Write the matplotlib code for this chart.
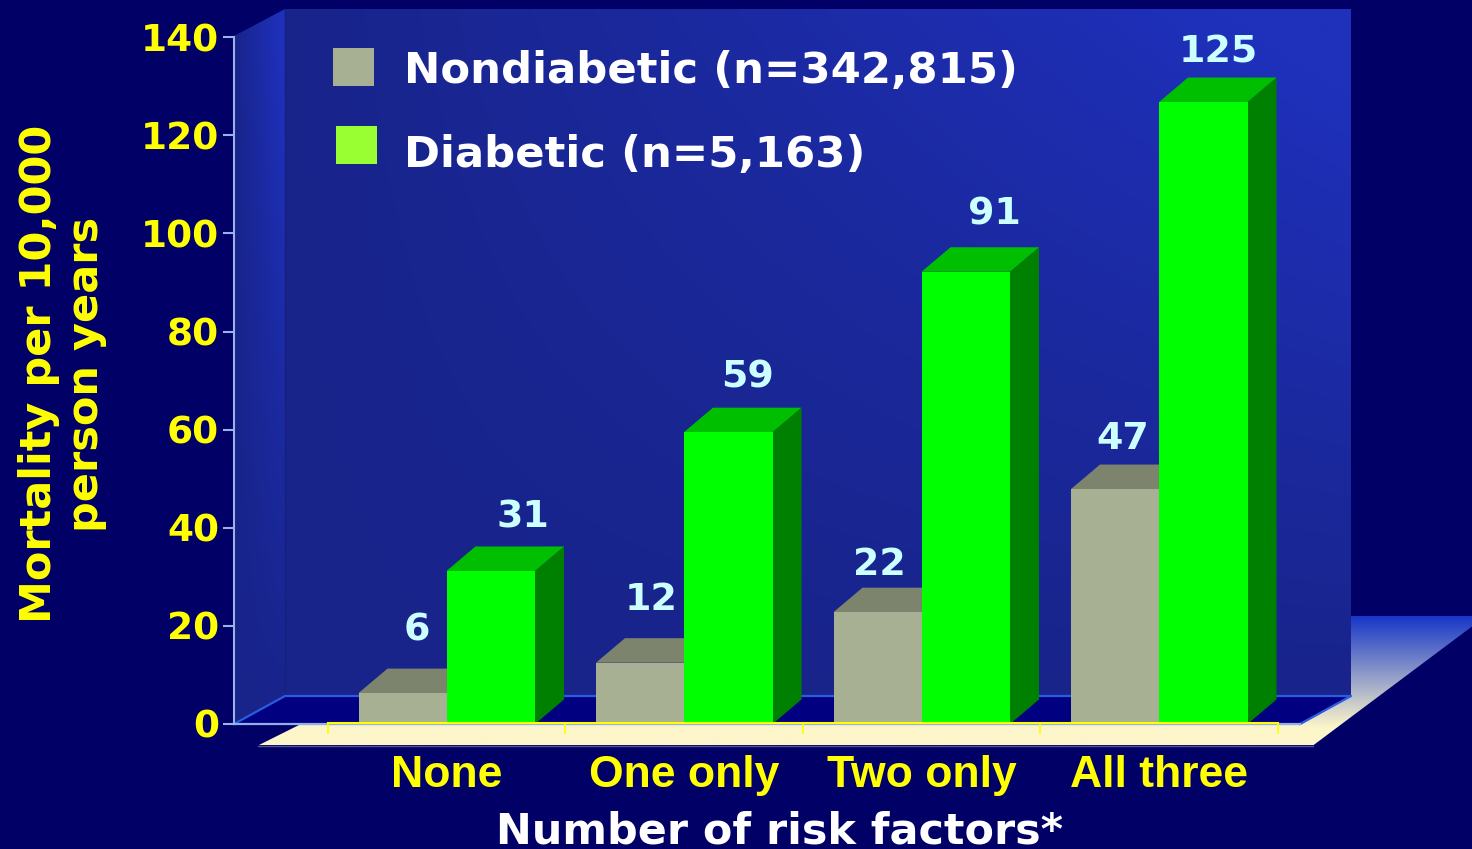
import numpy as np
import matplotlib
matplotlib.use("Agg")
import matplotlib.pyplot as plt
from matplotlib.colors import to_rgb
from matplotlib.patches import Polygon

# ---- data ----
categories = ["None", "One only", "Two only", "All three"]
nondiabetic_labels = [6, 12, 22, 47]
diabetic_labels = [31, 59, 91, 125]
# bar heights as read against the drawn y axis
nondiabetic_heights = [6.3, 12.5, 22.8, 47.9]
diabetic_heights = [31.2, 59.5, 92.2, 126.8]
y_ticks = [0, 20, 40, 60, 80, 100, 120, 140]
legend_nondiabetic = "Nondiabetic (n=342,815)"
legend_diabetic = "Diabetic (n=5,163)"
y_title = "Mortality per 10,000\nperson years"
x_title = "Number of risk factors*"

# ---- style ----
W, H = 1472, 849
BG = "#000066"
GRAY, GRAY_TOP = "#a7b093", "#7c846e"
GREEN, GREEN_SIDE, GREEN_TOP = "#00ff00", "#008000", "#00bf00"
YEL, LAB, AX = "#ffff00", "#ccffff", "#99b3e6"
DEPTH_PX = (29, 24.5)
gray_off = [(-30, 63), (-33, 63), (-42, 47), (-36, 50)]
green_off = [(76, 53), (64, 55), (73, 57), (59, 50)]
BODY = ["DejaVu Sans"]
HEAD = ["Liberation Sans"]

fig = plt.figure(figsize=(W / 100, H / 100), dpi=100, facecolor=BG)

# ---- backdrop in pixel space ----
bg = fig.add_axes([0, 0, 1, 1], zorder=0)
bg.set_xlim(0, W); bg.set_ylim(H, 0); bg.axis("off")


def grad_image(poly, extent, func, z):
    x0, x1, y0, y1 = extent
    nx, ny = 240, 240
    xs, ys = np.meshgrid(np.linspace(0, 1, nx), np.linspace(0, 1, ny))
    im = bg.imshow(func(xs, ys), extent=(x0, x1, y1, y0), origin="upper",
                   aspect="auto", zorder=z, interpolation="bilinear")
    p = Polygon(poly, closed=True, transform=bg.transData, fc="none", ec="none")
    bg.add_patch(p)
    im.set_clip_path(p)


def mix(a, b, t):
    a, b = np.array(to_rgb(a)), np.array(to_rgb(b))
    return a + (b - a) * np.clip(t, 0, 1)[..., None]


wall = lambda x, y: mix("#18248a", "#1f30bb", x * (1 - y) * 1.15)
slab = lambda x, y: mix("#1535c8", "#fdf6ca", y * 1.15)
grad_image([(258, 745.5), (299, 725), (1300, 725), (1351, 696), (1351, 616),
            (1486, 616), (1313, 745.5)], (258, 1486, 616, 745.5), slab, 1)
bg.plot([258, 1313], [745.7, 745.7], color="#55558f", lw=1, zorder=1.2)
grad_image([(285, 9), (1351, 9), (1351, 696), (285, 696)], (285, 1351, 9, 696), wall, 2)
grad_image([(234, 36), (285, 9), (285, 696), (234, 724)], (234, 285, 9, 724), wall, 2)
bg.add_patch(Polygon([(234, 724), (285, 696), (1351, 696), (1300, 724)],
                     closed=True, fc="#000080", ec="none", zorder=3))
bg.plot([234, 285, 1351, 1300], [724, 696, 696, 724], color="#2a5ce0", lw=1.6, zorder=3.2)
bg.plot([285, 285], [9, 696], color="#15207a", lw=1, zorder=3.1)
bg.plot([234, 1300], [724, 724], color="#8fb0ea", lw=1.6, zorder=3.2)
bg.set_xlim(0, W); bg.set_ylim(H, 0)

# ---- chart axes ----
left, right, y0px, y140 = 233.5, 1279, 724, 37.3
ax = fig.add_axes([left / W, 1 - y0px / H, (right - left) / W, (y0px - y140) / H],
                  zorder=1, facecolor="none")
cat_w, cat_0 = 237.5, 446.5
ax.set_xlim((left - cat_0) / cat_w, (right - cat_0) / cat_w)
ax.set_ylim(0, 140)
px_x, px_y = 1 / cat_w, 140 / (y0px - y140)
dx, dy = DEPTH_PX[0] * px_x, DEPTH_PX[1] * px_y
bw_g, bw_d = 88 * px_x, 88.5 * px_x
xs = np.arange(len(categories))


def solid(xa, xb, h, front, side, top, z):
    ax.bar(xa, h, width=xb - xa, align="edge", color=front, linewidth=0, zorder=z + .2)
    if side:
        ax.add_patch(Polygon([(xb, 0), (xb + dx, dy), (xb + dx, h + dy), (xb, h)],
                             closed=True, fc=side, ec="none", zorder=z))
    ax.add_patch(Polygon([(xa, h), (xa + dx, h + dy), (xb + dx, h + dy), (xb, h)],
                         closed=True, fc=top, ec="none", zorder=z))


for i, x in enumerate(xs):
    solid(x - bw_g, x, nondiabetic_heights[i], GRAY, None, GRAY_TOP, 2.0)
    solid(x, x + bw_d, diabetic_heights[i], GREEN, GREEN_SIDE, GREEN_TOP, 2.1)
    for val, h, off in ((nondiabetic_labels[i], nondiabetic_heights[i], gray_off[i]),
                        (diabetic_labels[i], diabetic_heights[i], green_off[i])):
        ax.annotate(str(val), xy=(x, h), xytext=off, textcoords="offset pixels",
                    ha="center", va="center", color=LAB, fontsize=27.4,
                    fontweight="bold", family=BODY, zorder=5)

for s in ("top", "right"):
    ax.spines[s].set_visible(False)
ax.spines["left"].set_color(AX); ax.spines["left"].set_linewidth(1.5)
ax.spines["left"].set_bounds(0, 140)
ax.spines["bottom"].set_position(("data", 0.3))
ax.spines["bottom"].set_color(YEL); ax.spines["bottom"].set_linewidth(1.5)
ax.spines["bottom"].set_bounds(-0.5, len(categories) - 0.5)

ax.set_yticks(y_ticks)
ax.tick_params(axis="y", length=8, width=1.5, color=AX, labelcolor=YEL, pad=2.5, labelsize=27)
for t in ax.get_yticklabels():
    t.set_fontweight("bold"); t.set_family(BODY)
ax.set_xticks(xs)
ax.set_xticklabels(categories)
ax.set_xticks(np.arange(len(categories) + 1) - 0.5, minor=True)
ax.tick_params(axis="x", which="major", length=0, pad=23.5, labelcolor=YEL, labelsize=32)
ax.tick_params(axis="x", which="minor", length=8, width=1.3, color=YEL)
for t in ax.get_xticklabels():
    t.set_fontweight("bold"); t.set_family(HEAD)

ax.set_ylabel(y_title, color=YEL, fontsize=31, fontweight="bold", family=BODY,
              linespacing=1.16, ha="center", va="center")
ax.yaxis.set_label_coords((62.5 - left) / (right - left), (724 - 374) / (724 - 37.3))
ax.set_xlabel(x_title, color="white", fontsize=30.9, fontweight="bold", family=BODY,
              ha="center", va="center")
ax.xaxis.set_label_coords((780 - left) / (right - left), (724 - 831) / (724 - 37.3))

# ---- legend, hand placed as in the slide ----
bg.add_patch(Polygon([(333, 48), (374, 48), (374, 86), (333, 86)], closed=True, fc=GRAY, ec="none", zorder=4))
bg.add_patch(Polygon([(336, 126), (377, 126), (377, 164), (336, 164)], closed=True, fc="#99ff33", ec="none", zorder=4))
bg.text(404, 71, legend_nondiabetic, color="white", fontsize=31.2, fontweight="bold",
        family=BODY, va="center", ha="left", zorder=4)
bg.text(404, 155, legend_diabetic, color="white", fontsize=31.2, fontweight="bold",
        family=BODY, va="center", ha="left", zorder=4)

fig.savefig("out.png", dpi=100, facecolor=BG)
